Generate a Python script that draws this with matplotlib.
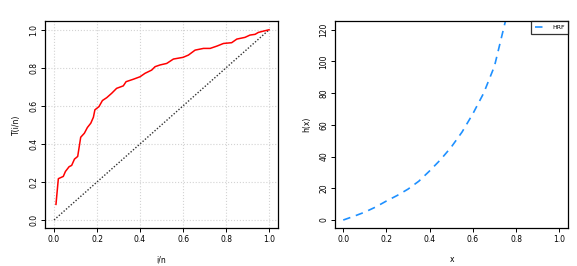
import matplotlib
matplotlib.use("Agg")
import matplotlib.pyplot as plt
import numpy as np

# TTT plot data (i/n, T(i/n))
ttt_x = [0.009, 0.02, 0.043, 0.053, 0.07, 0.082, 0.095, 0.11, 0.124, 0.141, 0.155,
         0.171, 0.183, 0.19, 0.209, 0.225, 0.245, 0.268, 0.291, 0.322, 0.335, 0.369,
         0.4, 0.423, 0.454, 0.47, 0.493, 0.524, 0.555, 0.6, 0.625, 0.656, 0.695,
         0.726, 0.757, 0.788, 0.826, 0.85, 0.888, 0.911, 0.935, 0.95, 0.974, 1.0]
ttt_y = [0.082, 0.217, 0.229, 0.255, 0.28, 0.287, 0.32, 0.334, 0.435, 0.456, 0.486,
         0.509, 0.54, 0.579, 0.596, 0.628, 0.643, 0.666, 0.692, 0.705, 0.727, 0.74,
         0.753, 0.771, 0.788, 0.806, 0.815, 0.823, 0.846, 0.855, 0.867, 0.893, 0.902,
         0.902, 0.914, 0.928, 0.932, 0.951, 0.96, 0.972, 0.976, 0.986, 0.993, 1.0]

# Hazard rate function data
hrf_x = [0.0, 0.05, 0.1, 0.15, 0.2, 0.25, 0.3, 0.35, 0.4, 0.45, 0.5, 0.55, 0.6,
         0.65, 0.7, 0.75]
hrf_y = [0.0, 2.4, 5.0, 8.2, 12.0, 15.5, 19.5, 24.5, 31.0, 38.0, 46.0, 55.5, 67.0,
         80.0, 97.0, 125.0]

fig = plt.figure(figsize=(5.77, 2.66), dpi=100)
fs = 5.5

def style(ax):
    for s in ax.spines.values():
        s.set_linewidth(0.9)
    ax.tick_params(length=3, width=0.7, labelsize=fs, pad=2)
    for lab in ax.get_yticklabels():
        lab.set_rotation(90)
        lab.set_va("center")

ax1 = fig.add_axes([0.078, 0.143, 0.404, 0.778])
ax1.grid(True, color="#d3d3d3", linestyle=":", linewidth=0.8)
ax1.plot([0, 1], [0, 1], color="#333333", linestyle=(0, (1, 1.3)), linewidth=1.0)
ax1.plot(ttt_x, ttt_y, color="red", linewidth=1.1)
ax1.set_xlim(-0.042, 1.042)
ax1.set_ylim(-0.042, 1.046)
ax1.set_xticks([0, 0.2, 0.4, 0.6, 0.8, 1.0])
ax1.set_yticks([0, 0.2, 0.4, 0.6, 0.8, 1.0])
ax1.set_xticklabels(["0.0", "0.2", "0.4", "0.6", "0.8", "1.0"])
ax1.set_yticklabels(["0.0", "0.2", "0.4", "0.6", "0.8", "1.0"])
ax1.set_axisbelow(True)
ax1.set_xlabel("i/n", fontsize=fs, labelpad=8)
ax1.set_ylabel("T(i/n)", fontsize=fs, labelpad=6)
style(ax1)

ax2 = fig.add_axes([0.581, 0.143, 0.404, 0.778])
ax2.plot(hrf_x, hrf_y, color="#1E90FF", linestyle=(0, (4.5, 3.5)), linewidth=1.2, label="HRF")
ax2.set_xlim(-0.037, 1.042)
ax2.set_ylim(-5, 125.5)
ax2.set_xticks([0, 0.2, 0.4, 0.6, 0.8, 1.0])
ax2.set_xticklabels(["0.0", "0.2", "0.4", "0.6", "0.8", "1.0"])
ax2.set_yticks([0, 20, 40, 60, 80, 100, 120])
ax2.set_xlabel("x", fontsize=fs, labelpad=8)
ax2.set_ylabel("h(x)", fontsize=fs, labelpad=6)
style(ax2)
leg = ax2.legend(loc="upper right", fontsize=4.5, frameon=True, fancybox=False,
                 borderaxespad=0, handlelength=1.2, borderpad=0.6, handletextpad=1.5)
leg.get_frame().set_edgecolor("black")
leg.get_frame().set_linewidth(0.9)

fig.savefig("out.png", dpi=100)
